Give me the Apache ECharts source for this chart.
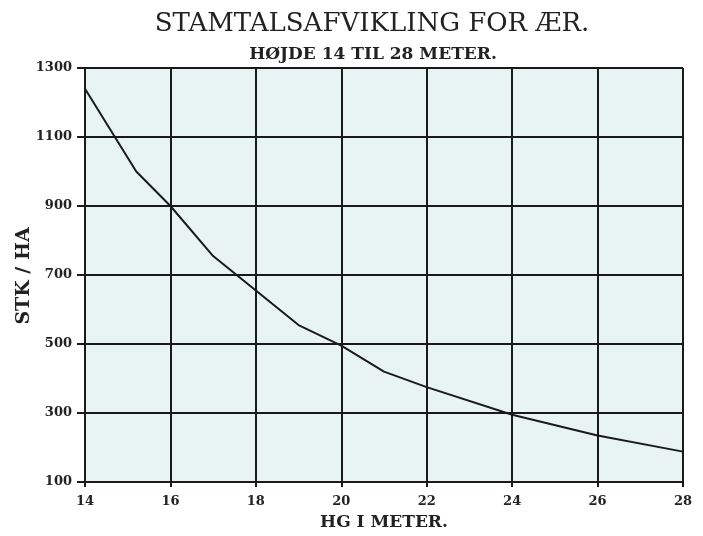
<!DOCTYPE html>
<html><head><meta charset="utf-8">
<script src="https://cdn.jsdelivr.net/npm/echarts@6/dist/echarts.min.js"></script>
<style>html,body{margin:0;padding:0;background:#fff}#c{width:703px;height:536px}</style>
</head><body><div id="c"></div>
<script>
const heights = [14, 15.2, 16, 17, 18, 19, 20, 21, 22, 24, 26, 28];
const stemsPerHa = [1240, 1000, 900, 755, 655, 555, 495, 420, 375, 295, 235, 188];
const xTicks = [14, 16, 18, 20, 22, 24, 26, 28];
const yTicks = [100, 300, 500, 700, 900, 1100, 1300];
const titleText = 'STAMTALSAFVIKLING FOR ÆR.';
const subtitleText = 'HØJDE 14 TIL 28 METER.';
const xName = 'HG I METER.';
const yName = 'STK / HA';

const chart = echarts.init(document.getElementById('c'), null, {renderer: 'canvas'});
const serif = '"DejaVu Serif", "Liberation Serif", serif';
const lineCol = '#1a1a1a';
chart.setOption({
  backgroundColor: '#ffffff',
  animation: false,
  title: [
    {text: titleText, left: 367, textAlign: 'center', top: 6,
     textStyle: {fontFamily: serif, fontWeight: 'normal', fontSize: 26, color: '#222'}},
    {text: subtitleText, left: 368, textAlign: 'center', top: 41,
     textStyle: {fontFamily: serif, fontWeight: 'bold', fontSize: 17, color: '#222'}}
  ],
  grid: {left: 85, right: 20, top: 68, bottom: 54, show: true, containLabel: false,
         outerBoundsMode: 'none',
         backgroundColor: '#e7f4f3', borderWidth: 0},
  xAxis: {
    type: 'value', min: xTicks[0], max: xTicks[xTicks.length - 1], interval: 2,
    name: xName, nameLocation: 'middle', nameGap: 32,
    nameTextStyle: {fontFamily: serif, fontWeight: 'bold', fontSize: 17, color: '#222'},
    axisLine: {show: true, onZero: false, lineStyle: {color: lineCol, width: 2}},
    axisTick: {show: true, length: 5, lineStyle: {color: lineCol, width: 2}},
    axisLabel: {fontFamily: serif, fontWeight: 'bold', fontSize: 13, color: '#222', margin: 13},
    splitLine: {show: true, lineStyle: {color: lineCol, width: 2}}
  },
  yAxis: {
    type: 'value', min: yTicks[0], max: yTicks[yTicks.length - 1], interval: 200,
    axisLine: {show: true, onZero: false, lineStyle: {color: lineCol, width: 2}},
    axisTick: {show: true, length: 8, lineStyle: {color: lineCol, width: 2}},
    axisLabel: {fontFamily: serif, fontWeight: 'bold', fontSize: 13, color: '#222', margin: 13,
                formatter: v => String(v)},
    splitLine: {show: true, lineStyle: {color: lineCol, width: 2}}
  },
  graphic: [{
    type: 'text', x: 24, y: 276, rotation: Math.PI / 2,
    style: {text: yName, font: 'bold 19px ' + serif, fill: '#222',
            textAlign: 'center', textVerticalAlign: 'middle'}
  }],
  series: [{
    type: 'line', data: heights.map((h, i) => [h, stemsPerHa[i]]),
    symbol: 'none', smooth: false,
    lineStyle: {color: lineCol, width: 2}
  }]
});
</script></body></html>
